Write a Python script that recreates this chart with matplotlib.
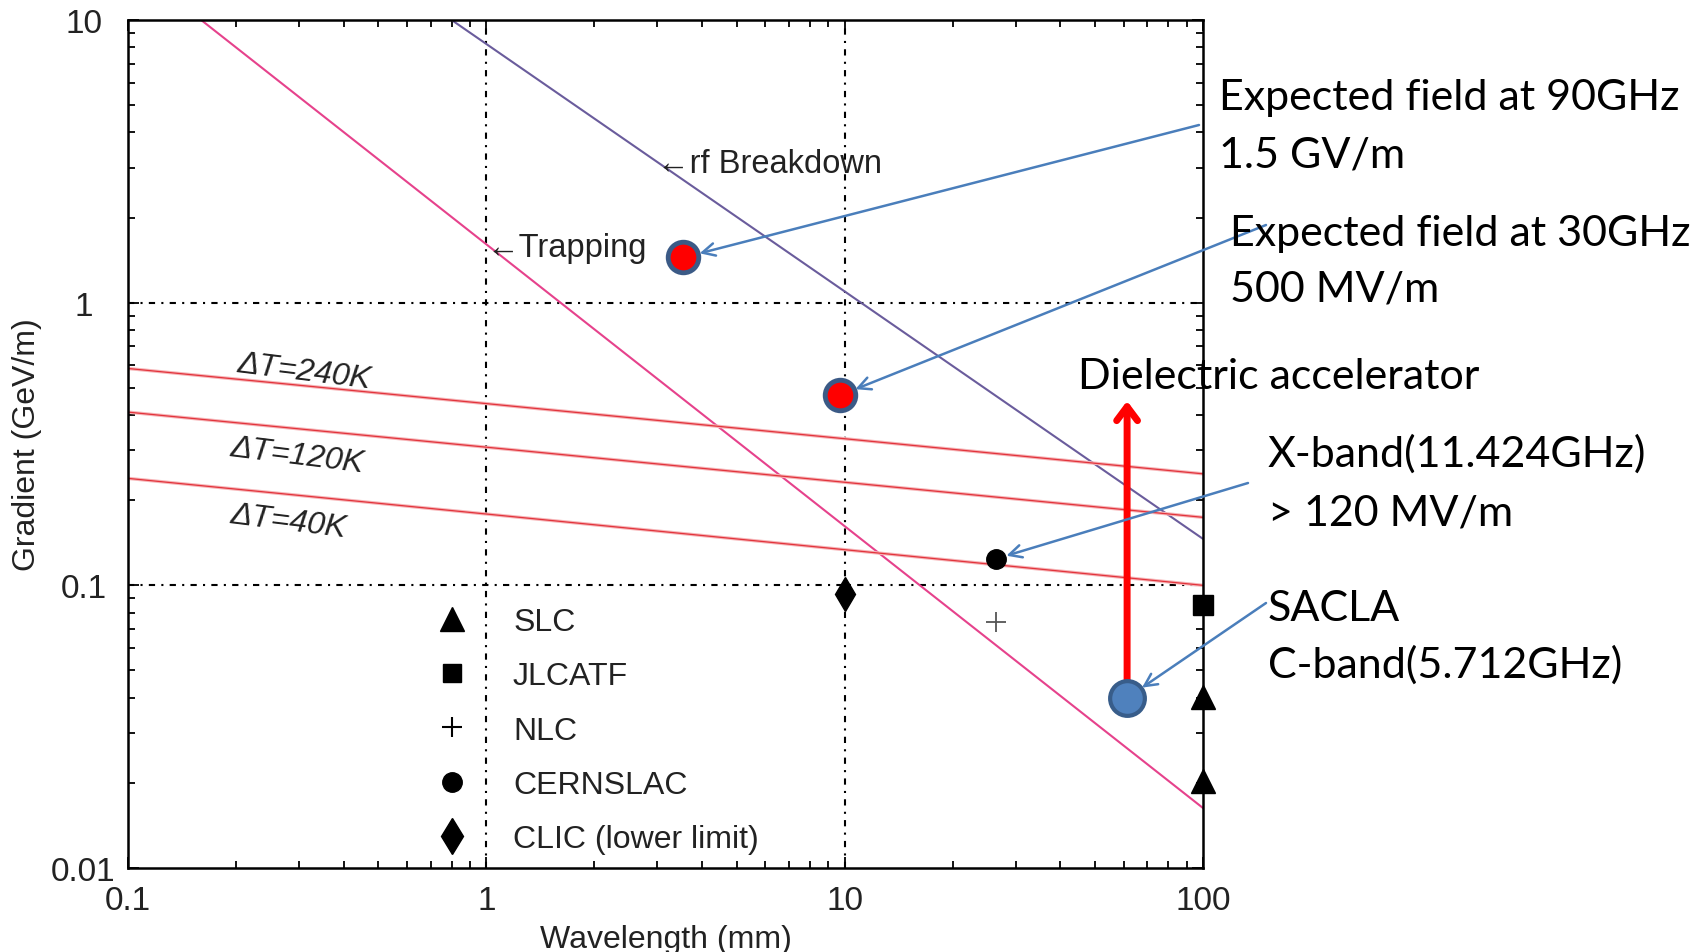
import matplotlib
matplotlib.use('Agg')
import matplotlib.pyplot as plt
from matplotlib import font_manager
from matplotlib.lines import Line2D

# lines (wavelength in mm, gradient in GeV/m)
trapping_x = [0.16, 100]
trapping_y = [10, 0.0163]
breakdown_x = [0.8, 100]
breakdown_y = [10, 0.146]
dt_labels = ['ΔT=240K', 'ΔT=120K', 'ΔT=40K']
dt_x = [0.1, 100]
dt_y = [[0.585, 0.248], [0.41, 0.174], [0.239, 0.100]]

# machines
slc_x, slc_y = [100, 100], [0.0403, 0.0203]
jlc_x, jlc_y = [100], [0.085]
nlc_x, nlc_y = [26.4], [0.0744]
cern_x, cern_y = [26.4], [0.124]
clic_x, clic_y = [10], [0.093]
legend_labels = ['SLC', 'JLCATF', 'NLC', 'CERNSLAC', 'CLIC (lower limit)']

# expected fields / SACLA
expected_x = [3.55, 9.7]
expected_y = [1.445, 0.47]
sacla_x, sacla_y = [61.4], [0.040]
dielectric_y = 0.449

W, H = 1704, 953
names = {f.name for f in font_manager.fontManager.ttflist}
narrow = 'Liberation Sans Narrow' if 'Liberation Sans Narrow' in names else 'Liberation Sans'
plot_font = [narrow, 'DejaVu Sans']
note_font = ['Lato', 'DejaVu Sans']


def fig_xy(px, py):
    return px / W, 1 - py / H


fig = plt.figure(figsize=(W / 100, H / 100), dpi=100)
ax = fig.add_axes([128 / W, 1 - 869 / H, 1075 / W, 848 / H])
ax.set_xscale('log')
ax.set_yscale('log')
ax.set_xlim(0.1, 100)
ax.set_ylim(0.01, 10)

# grid at decades
dash = (0, (3, 3, 1, 3))
for gx in [1, 10]:
    ax.axvline(gx, color='black', lw=1.5, ls=dash, zorder=1)
for gy in [0.1, 1]:
    ax.axhline(gy, color='black', lw=1.5, ls=dash, zorder=1)

ax.plot(trapping_x, trapping_y, color='#e6428c', lw=1.5, zorder=2)
ax.plot(breakdown_x, breakdown_y, color='#6a5c9c', lw=1.5, zorder=2)
for ys in dt_y:
    ax.plot(dt_x, ys, color='#f6b4b7', lw=2.4, zorder=2)
    ax.plot(dt_x, ys, color='#e2343c', lw=0.9, zorder=2)

ax.plot(slc_x, slc_y, ls='none', marker='^', ms=17, color='black', zorder=4, clip_on=False)
ax.plot(jlc_x, jlc_y, ls='none', marker='s', ms=14, color='black', zorder=4, clip_on=False)
ax.plot(nlc_x, nlc_y, ls='none', marker='+', ms=14, mew=1.3, color='#555555', zorder=4)
ax.plot(cern_x, cern_y, ls='none', marker='o', ms=14, color='black', zorder=4)
ax.plot(clic_x, clic_y, ls='none', marker='d', ms=17, color='black', zorder=4)

# line labels
ax.text(3.0, 3.1, '←rf Breakdown', fontsize=23.5, family=plot_font, color='#222222',
        ha='left', va='center')
ax.text(1.0, 1.57, '←Trapping', fontsize=23.5, family=plot_font, color='#222222',
        ha='left', va='center')
for lab, lx, ly in zip(dt_labels, [0.31, 0.296, 0.281], [0.573, 0.289, 0.168]):
    ax.text(lx, ly, lab, fontsize=23, family=plot_font, style='italic', color='#222222',
            ha='center', va='center', rotation=-7)

# legend
handles = [
    Line2D([], [], ls='none', marker='^', ms=17, color='black'),
    Line2D([], [], ls='none', marker='s', ms=13, color='black'),
    Line2D([], [], ls='none', marker='+', ms=14, mew=1.5, color='black'),
    Line2D([], [], ls='none', marker='o', ms=14, color='black'),
    Line2D([], [], ls='none', marker='d', ms=18, color='black'),
]
leg = ax.legend(handles, legend_labels, loc='center left', bbox_to_anchor=(0.272, 0.162),
                frameon=False, borderpad=0, handlelength=1.0, handletextpad=1.4,
                labelspacing=0.76, numpoints=1, prop={'family': plot_font, 'size': 23})
for t in leg.get_texts():
    t.set_color('#222222')

# axes styling
for s in ax.spines.values():
    s.set_linewidth(1.8)
ax.tick_params(which='both', direction='in', top=True, right=True, width=1.3)
ax.tick_params(which='major', length=8, labelsize=24)
ax.tick_params(axis='x', which='major', pad=12)
ax.tick_params(axis='y', which='major', pad=32)
ax.tick_params(which='minor', length=5)
ax.set_xticks([0.1, 1, 10, 100])
ax.set_xticklabels(['0.1', '1', '10', '100'], family=plot_font, color='#222222')
ax.set_yticks([0.01, 0.1, 1, 10])
ax.set_yticklabels(['0.01', '0.1', '1', '10'], family=plot_font, color='#222222', ha='center')
ax.set_xlabel('Wavelength (mm)', fontsize=23, family=plot_font, color='#222222', labelpad=6)
ax.set_ylabel('Gradient (GeV/m)', fontsize=23, family=plot_font, color='#222222')
ax.yaxis.set_label_coords(-0.080, 0.5)

# expected fields and SACLA markers
ax.plot(expected_x, expected_y, ls='none', marker='o', ms=22, mfc='#ff0000',
        mec='#3b5a86', mew=3.5, zorder=6)
ax.plot(sacla_x, sacla_y, ls='none', marker='o', ms=25, mfc='#4f81bd',
        mec='#385d8a', mew=3.0, zorder=6)

# red arrow: dielectric accelerator
ax.annotate('', xy=(sacla_x[0], dielectric_y), xytext=(sacla_x[0], sacla_y[0]),
            arrowprops=dict(arrowstyle='->,head_length=1.0,head_width=0.75', color='#ff0000',
                            lw=5, shrinkA=0, shrinkB=0, capstyle='round', joinstyle='round'),
            zorder=5)

# blue annotation arrows
blue = '#4a7ebb'
arrow_targets = [(expected_x[0], expected_y[0]), (expected_x[1], expected_y[1]),
                 (cern_x[0], cern_y[0]), (sacla_x[0], sacla_y[0])]
arrow_starts = [(1199, 126), (1266, 226), (1248, 484), (1266, 604)]
arrow_shrink = [12, 12, 8, 13]
for (tx, ty), (sx, sy), sh in zip(arrow_targets, arrow_starts, arrow_shrink):
    ax.annotate('', xy=(tx, ty), xycoords='data', xytext=fig_xy(sx, sy),
                textcoords='figure fraction',
                arrowprops=dict(arrowstyle='->,head_length=0.9,head_width=0.45', color=blue,
                                lw=1.8, shrinkA=0, shrinkB=sh),
                zorder=7, annotation_clip=False)

# notes on the right
notes = [
    ('Expected field at 90GHz', 1219, 98),
    ('1.5 GV/m', 1219, 155),
    ('Expected field at 30GHz', 1230, 234),
    ('500 MV/m', 1230, 290),
    ('Dielectric accelerator', 1078, 377),
    ('X-band(11.424GHz)', 1268, 454),
    ('> 120 MV/m', 1268, 513),
    ('SACLA', 1268, 609),
    ('C-band(5.712GHz)', 1268, 665),
]
for txt, px, py in notes:
    fig.text(*fig_xy(px, py), txt, fontsize=31, family=note_font, color='black',
             ha='left', va='center')

fig.savefig('out.png', dpi=100)
